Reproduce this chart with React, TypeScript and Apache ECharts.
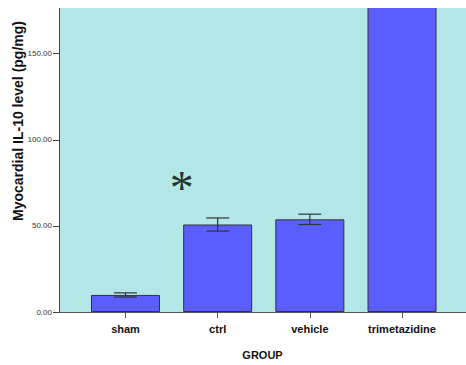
import React, { useEffect, useRef } from "react";
import * as echarts from "echarts";

// Group names along the x axis
const groups = ["sham", "ctrl", "vehicle", "trimetazidine"];
// Mean myocardial IL-10 level per group (pg/mg)
const means = [9.9, 50.8, 53.8, 190];
// Half-length of each error bar (pg/mg)
const errors = [1.2, 3.8, 3.0, 12];
// Y tick values
const yTicks = [0, 50, 100, 150];
// Significance marker shown above the ctrl bar
const markerGroupIndex = 1;
const markerText = "*";
const yTitle = "Myocardial IL-10 level (pg/mg)";

const positions = groups.map((_, i) => i);

export default function App() {
  const ref = useRef<HTMLDivElement>(null);

  useEffect(() => {
    if (!ref.current) return;
    const chart = echarts.init(ref.current, null, { renderer: "svg" });

    const barData = means.map((m, i) => [positions[i], m]);
    const errData = means.map((m, i) => [positions[i], m - errors[i], m + errors[i]]);

    chart.setOption({
      animation: false,
      grid: {
        left: 59,
        right: 0,
        top: 8,
        bottom: 51,
        show: true,
        backgroundColor: "#B3E6E6",
        borderWidth: 0,
      },
      graphic: [
        {
          type: "text",
          x: 17.5,
          y: 121,
          rotation: Math.PI / 2,
          z: 10,
          style: {
            text: yTitle,
            fontFamily: "Liberation Sans",
            fontSize: 14,
            fontWeight: "bold",
            fill: "#111",
            align: "center",
            verticalAlign: "middle",
          },
        },
        // white band above the plot area, over the tall bar
        {
          type: "rect",
          z: 20,
          shape: { x: 0, y: 0, width: 466, height: 8 },
          style: { fill: "#fff" },
        },
      ],
      xAxis: {
        type: "value",
        min: -0.7215,
        max: 3.694,
        name: "GROUP",
        nameLocation: "middle",
        nameGap: 37,
        nameTextStyle: {
          fontFamily: "Liberation Sans",
          fontSize: 11,
          fontWeight: "bold",
          color: "#111",
        },
        splitLine: { show: false },
        axisLine: { show: true, onZero: false, lineStyle: { color: "#555", width: 1 } },
        axisTick: {
          show: true,
          customValues: positions,
          length: 6,
          lineStyle: { color: "#555" },
        },
        axisLabel: {
          customValues: positions,
          formatter: (v: number) => groups[Math.round(v)] ?? "",
          fontFamily: "Liberation Sans",
          fontSize: 11,
          fontWeight: "bold",
          color: "#111",
          margin: 11,
        },
      },
      yAxis: {
        type: "value",
        min: 0,
        max: 176.5,
        interval: 50,
        splitLine: { show: false },
        axisLine: { show: true, onZero: false, lineStyle: { color: "#444", width: 1 } },
        axisTick: {
          show: true,
          customValues: yTicks,
          length: 6,
          lineStyle: { color: "#444" },
        },
        axisLabel: {
          customValues: yTicks,
          formatter: (v: number) => v.toFixed(2),
          fontFamily: "Liberation Sans",
          fontSize: 8,
          color: "#333",
          margin: 7,
        },
      },
      series: [
        {
          type: "bar",
          data: barData,
          barWidth: 69,
          clip: false,
          itemStyle: {
            color: "#5B5EFF",
            borderColor: "#333",
            borderWidth: 1,
          },
        },
        {
          type: "custom",
          data: errData,
          clip: true,
          z: 5,
          renderItem: (params: any, api: any) => {
            const x = api.value(0);
            const lo = api.coord([x, api.value(1)]);
            const hi = api.coord([x, api.value(2)]);
            const hw = 11.5;
            const style = { stroke: "#333", lineWidth: 1.2 };
            return {
              type: "group",
              children: [
                { type: "line", shape: { x1: hi[0], y1: hi[1], x2: lo[0], y2: lo[1] }, style },
                { type: "line", shape: { x1: hi[0] - hw, y1: hi[1], x2: hi[0] + hw, y2: hi[1] }, style },
                { type: "line", shape: { x1: lo[0] - hw, y1: lo[1], x2: lo[0] + hw, y2: lo[1] }, style },
              ],
            };
          },
        },
        {
          type: "scatter",
          data: [[positions[markerGroupIndex] - 0.39, 72.5]],
          symbolSize: 0,
          z: 6,
          label: {
            show: true,
            position: "inside",
            formatter: markerText,
            fontFamily: "Liberation Serif",
            fontSize: 48,
            color: "#000",
          },
        },
      ],
    });

    return () => chart.dispose();
  }, []);

  return (
    <div
      ref={ref}
      style={{ position: "fixed", left: 0, top: 0, width: 466, height: 365, background: "#fff" }}
    />
  );
}
